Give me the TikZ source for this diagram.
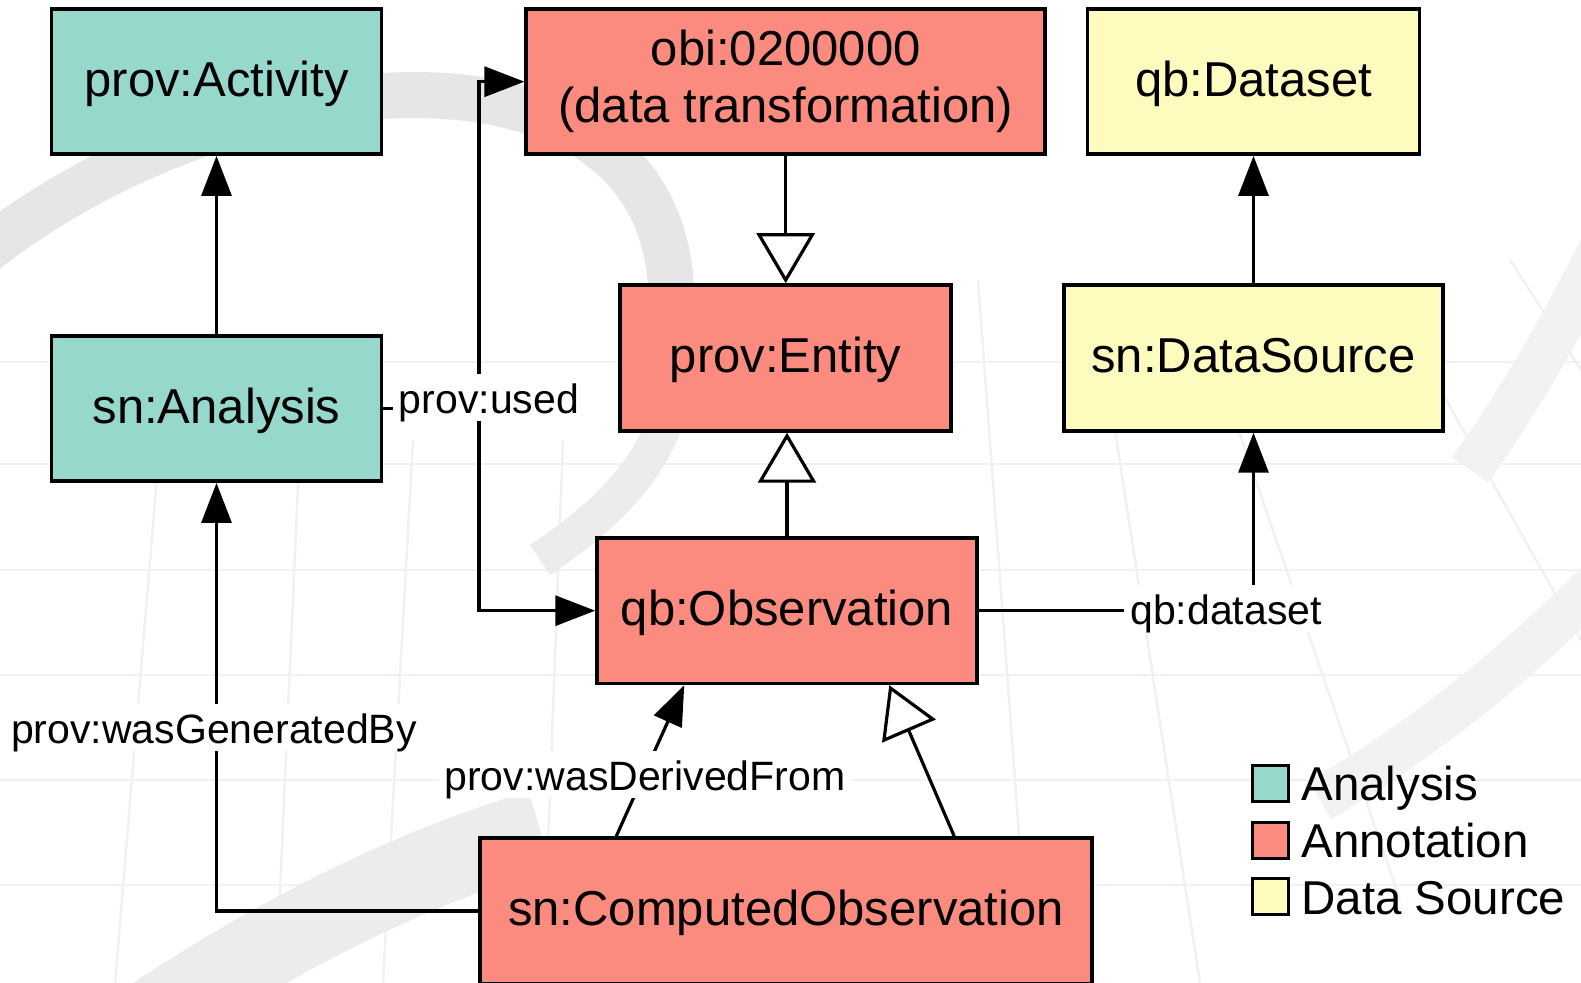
\documentclass[tikz,border=0pt]{standalone}
\usepackage{fontspec}
\setmainfont{Liberation Sans}
\usetikzlibrary{arrows.meta,calc}
\definecolor{analysis}{RGB}{151,216,204}
\definecolor{annot}{RGB}{250,139,126}
\definecolor{dsrc}{RGB}{253,251,190}
\definecolor{swoosh}{RGB}{230,230,230}
\definecolor{swooshmd}{RGB}{236,236,236}
\definecolor{swooshlt}{RGB}{242,242,242}
\definecolor{gridln}{RGB}{240,241,246}

\begin{document}
\begin{tikzpicture}[x=0.5pt,y=-0.5pt,
  cls/.style={draw=black,line width=1.75pt,inner sep=0pt,
    font=\fontsize{24.5}{28.5}\selectfont,align=center},
  one/.style={text height=15pt,text depth=0pt},
  conn/.style={line width=1.6pt,line join=miter},
  arr/.style={conn,-{Triangle[length=20pt,width=15pt]}},
  inh/.style={conn,-{Triangle[length=25pt,width=29pt,fill=white]}},
  lbl/.style={fill=white,inner xsep=3pt,inner ysep=2.35pt,
    font=\fontsize{20.5}{24}\selectfont,text height=17pt,text depth=1.8pt},
  sq/.style={draw=black,line width=1.5pt,minimum size=18pt,inner sep=0pt},
  lgd/.style={anchor=base west,inner sep=0pt,font=\fontsize{23.75}{28}\selectfont},
  grid/.style={gridln,line width=1.25pt}]

\useasboundingbox (0,0) rectangle (1581,983);
\fill[white] (0,0) rectangle (1581,983);

% faint watermark: globe grid and grey swooshes
\foreach \yy in {362,464,570,675,780,885}
  \draw[grid] (0,\yy) -- (1581,\yy);
\draw[grid] (160,440) -- (115,983);
\draw[grid] (300,440) -- (276,983);
\draw[grid] (413,440) -- (383,983);
\draw[grid] (563,440) -- (543,983);
\draw[grid] (978,280) -- (1030,983);
\draw[grid] (1095,300) -- (1200,983);
\draw[grid] (1235,420) -- (1400,900);
\draw[grid] (1390,300) -- (1581,640);
\draw[grid] (1510,260) -- (1581,370);

\draw[swoosh,line width=23pt]
  (-20,255) .. controls (250,40) and (700,20) .. (670,330);
\draw[swooshmd,line width=18pt]
  (670,330) .. controls (690,430) and (630,500) .. (540,560);
\draw[swooshmd,line width=40pt]
  (120,1040) .. controls (250,950) and (400,870) .. (540,830);
\draw[swooshlt,line width=22pt]
  (1320,800) .. controls (1440,730) and (1530,650) .. (1600,580);
\draw[swooshlt,line width=22pt]
  (1470,470) .. controls (1520,400) and (1560,330) .. (1600,250);

% class boxes
\node[cls,one,fill=analysis,minimum width=165pt,minimum height=72.5pt] (act) at (216.5,81.7) {prov:Activity};
\node[cls,one,fill=analysis,minimum width=165pt,minimum height=72.5pt] (an) at (216.5,408.7) {sn:Analysis};
\node[cls,fill=annot,minimum width=259.5pt,minimum height=72.5pt] (obi) at (785.7,81.7) {obi:0200000\\(data transformation)};
\node[cls,one,fill=dsrc,minimum width=166pt,minimum height=72.5pt] (dset) at (1253.5,81.7) {qb:Dataset};
\node[cls,one,fill=annot,minimum width=165.5pt,minimum height=73pt] (ent) at (785.5,358) {prov:Entity};
\node[cls,one,fill=dsrc,minimum width=189.5pt,minimum height=73pt] (dsrc) at (1253.5,358) {sn:DataSource};
\node[cls,one,fill=annot,minimum width=190pt,minimum height=72.75pt] (obs) at (787,610.7) {qb:Observation};
\node[cls,one,fill=annot,minimum width=306pt,minimum height=73pt] (co) at (786,911) {sn:ComputedObservation};

% connectors
\coordinate (usedx) at (479,0);
\draw[arr] (an.north) -- (act.south);
\draw[inh] (obi.south) -- (obi.south |- ent.north);
\draw[inh] (obs.north) -- (obs.north |- ent.south);
\draw[arr] (dsrc.north) -- (dset.south);
\draw[arr] (obs.east) -| (dsrc.south);
\draw[arr] (an.east) -- (an.east -| usedx) |- (obi.west);
\draw[arr] (an.east -| usedx) |- (obs.west);
\draw[arr] (co.west) -| (an.south);
\draw[arr] ($(co.north west)+(138,0)$) -- ($(obs.south west)+(89,0)$);
\draw[inh] ($(co.north west)+(476,0)$) -- ($(obs.south west)+(294,0)$);

% connector labels
\node[lbl] (lused) at (489,398) {prov:used};
\node[lbl] (lgen) at (214,728) {prov:wasGeneratedBy};
\node[lbl] (lder) at (645,775) {prov:wasDerivedFrom};
\node[lbl] (lds) at (1226,609) {qb:dataset};

% legend
\node[sq,fill=analysis] (k1) at (1270,784) {};
\node[sq,fill=annot] (k2) at (1270,840.5) {};
\node[sq,fill=dsrc] (k3) at (1270,897) {};
\node[lgd] (t1) at (1301,801) {Analysis};
\node[lgd] (t2) at (1301,857.5) {Annotation};
\node[lgd] (t3) at (1301,914) {Data Source};
\end{tikzpicture}
\end{document}
